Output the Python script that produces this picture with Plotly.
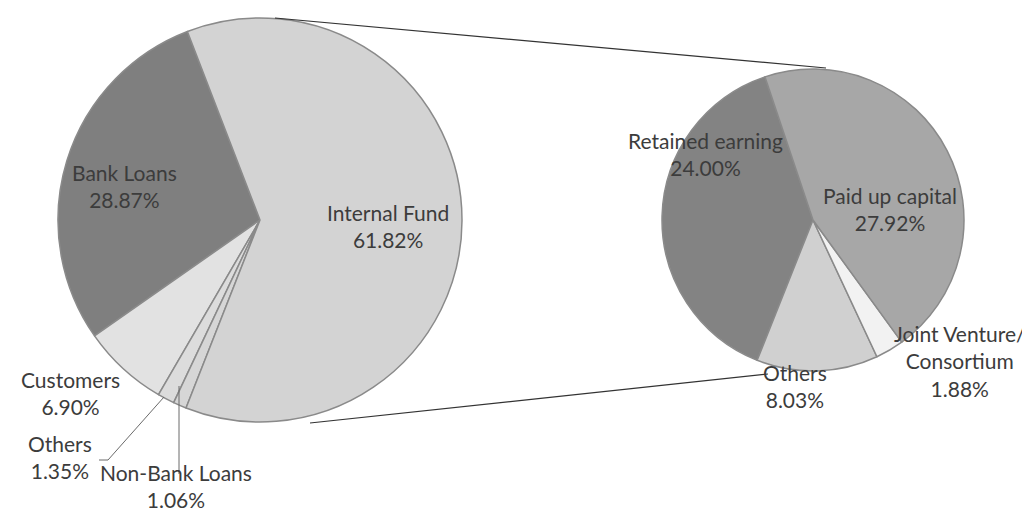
import plotly.graph_objects as go

# ---- data ----
main_labels = ["Bank Loans", "Customers", "Others", "Non-Bank Loans", "Internal Fund"]
main_values = [28.87, 6.90, 1.35, 1.06, 61.82]
main_colors = ["#7f7f7f", "#e2e2e2", "#dcdcdc", "#d6d6d6", "#d3d3d3"]

sub_labels = ["Retained earning", "Others", "Joint Venture/<br>Consortium", "Paid up capital"]
sub_values = [24.00, 8.03, 1.88, 27.92]
sub_colors = ["#838383", "#d0d0d0", "#f2f2f2", "#a7a7a7"]

W, H = 1030, 514

def px(x):
    return x / W

def py(y):
    return 1 - y / H

fig = go.Figure()

# left pie: centre (252, 212), r 202
cx, cy, r = 252, 212, 202
fig.add_trace(go.Pie(
    labels=main_labels, values=main_values, sort=False, direction="counterclockwise",
    rotation=-125, textinfo="none", hoverinfo="label+percent",
    marker=dict(colors=main_colors, line=dict(color="#8a8a8a", width=1.5)),
    domain=dict(x=[px(cx - r), px(cx + r)], y=[py(cy + r), py(cy - r)]),
    showlegend=False,
))

# right pie: centre (805, 212), r 151
cx2, cy2, r2 = 805, 212, 151
fig.add_trace(go.Pie(
    labels=sub_labels, values=sub_values, sort=False, direction="counterclockwise",
    rotation=-158.3, textinfo="none", hoverinfo="label+value",
    marker=dict(colors=sub_colors, line=dict(color="#8a8a8a", width=1.5)),
    domain=dict(x=[px(cx2 - r2), px(cx2 + r2)], y=[py(cy2 + r2), py(cy2 - r2)]),
    showlegend=False,
))

# connector lines between the pies
shapes = [
    dict(type="line", xref="paper", yref="paper", x0=px(267), y0=py(10), x1=px(818), y1=py(60),
         line=dict(color="#333333", width=1.2)),
    dict(type="line", xref="paper", yref="paper", x0=px(302), y0=py(415), x1=px(760), y1=py(366),
         line=dict(color="#333333", width=1.2)),
    # leader lines
    dict(type="path", xref="paper", yref="paper",
         path=f"M {px(156)} {py(389)} L {px(100)} {py(452)} L {px(91)} {py(452)}",
         line=dict(color="#6a6a6a", width=1)),
    dict(type="line", xref="paper", yref="paper", x0=px(171), y0=py(378), x1=px(171), y1=py(466),
         line=dict(color="#6a6a6a", width=1)),
]

font = dict(family="Lato, 'Open Sans', sans-serif", size=21, color="#3c3c3c")

dy = -9
main_pos = [(116, 187), (62, 394), (52, 458), (168, 487), (380, 227)]
sub_pos = [(697, 155), (787, 387), (952, 362), (882, 210)]

annotations = []
for lab, val, (x, y) in zip(main_labels, main_values, main_pos):
    annotations.append(dict(x=px(x), y=py(y + dy), xref="paper", yref="paper", showarrow=False,
                            text=f"{lab}<br>{val:.2f}%", font=font,
                            xanchor="center", yanchor="middle"))
for lab, val, (x, y) in zip(sub_labels, sub_values, sub_pos):
    annotations.append(dict(x=px(x), y=py(y + dy), xref="paper", yref="paper", showarrow=False,
                            text=f"{lab}<br>{val:.2f}%", font=font,
                            xanchor="center", yanchor="middle"))

fig.update_layout(
    width=W, height=H, margin=dict(l=0, r=0, t=0, b=0),
    paper_bgcolor="white", plot_bgcolor="white",
    shapes=shapes, annotations=annotations,
)

fig.write_html("out.html")
